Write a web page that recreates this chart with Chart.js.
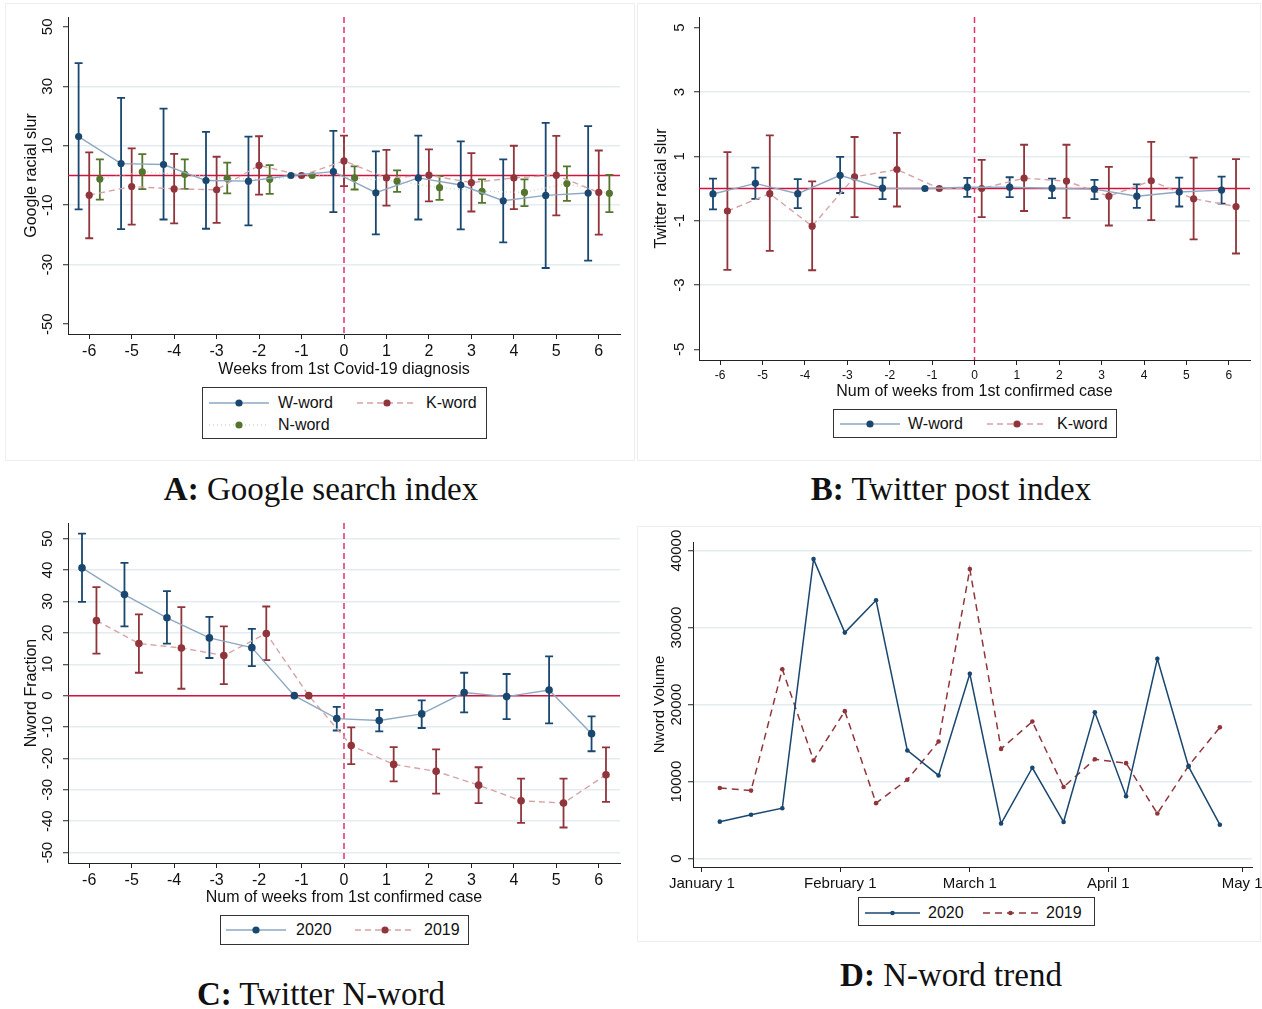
<!DOCTYPE html>
<html>
<head>
<meta charset="utf-8">
<script src="https://cdn.jsdelivr.net/npm/chart.js@4.4.1/dist/chart.umd.min.js"></script>
<style>
    body { margin: 0; background: #fff; width: 1262px; height: 1009px; position: relative; overflow: hidden;
           font-family: "Liberation Sans", Arial, sans-serif; color: #111; }
    .frame { position: absolute; border: 1px solid #eeeeee; }
    canvas { position: absolute; }
    .legend { position: absolute; border: 1px solid #333; background: #fff; font-size: 16px; box-sizing: border-box; }
    .legend span { position: absolute; white-space: nowrap; line-height: 20px; }
    .legend svg { position: absolute; }
    .cap { position: absolute; width: 632px; text-align: center; white-space: nowrap;
           font-family: "Liberation Serif", "DejaVu Serif", serif; font-size: 33px; color: #111; }
</style>
</head>
<body>
<div class="frame" style="left:5px;top:3px;width:628px;height:456px"></div>
<div class="frame" style="left:637px;top:3px;width:622px;height:456px"></div>
<div class="frame" style="left:637px;top:526px;width:622px;height:414px"></div>

<canvas id="googleChart" width="632" height="380" style="left:0;top:0"></canvas>
<canvas id="twitterChart" width="625" height="405" style="left:637px;top:0"></canvas>
<canvas id="nwordChart" width="632" height="400" style="left:0;top:510px"></canvas>
<canvas id="trendChart" width="625" height="375" style="left:637px;top:520px"></canvas>

<div class="cap" style="left:5px;top:471px"><b>A:</b> Google search index</div>
<div class="cap" style="left:635px;top:471px"><b>B:</b> Twitter post index</div>
<div class="cap" style="left:5px;top:976px"><b>C:</b> Twitter N-word</div>
<div class="cap" style="left:635px;top:957px"><b>D:</b> N-word trend</div>

<script>
const FONT = '"Liberation Sans", Arial, sans-serif';
const NAVY = '#1a476f';
const MAROON = '#90353b';
const GREEN = '#55752f';
const W_LINE = '#8ea8c2';
const K_LINE = '#d6a3a7';
const N_LINE = '#cfd5c8';
const GRID = '#e4ecef';

const weeks = [-6, -5, -4, -3, -2, -1, 0, 1, 2, 3, 4, 5, 6];

// A: Google search index
const googleW   = [13.1, 4.0, 3.7, -1.7, -1.9, 0, 1.3, -5.8, -0.8, -3.2, -8.5, -6.7, -5.9];
const googleWLo = [-11.4, -18.0, -14.8, -17.9, -16.8, null, -12.3, -19.8, -14.8, -18.1, -22.5, -31.1, -28.6];
const googleWHi = [37.8, 26.1, 22.5, 14.7, 13.1, null, 15.0, 8.1, 13.4, 11.5, 5.4, 17.7, 16.6];
const googleK   = [-6.6, -3.7, -4.5, -4.8, 3.4, 0, 4.9, -0.8, 0.1, -2.4, -0.8, 0.1, -5.7];
const googleKLo = [-21.1, -16.5, -16.1, -15.9, -6.4, null, -3.6, -10.1, -8.7, -12.1, -11.3, -13.4, -19.9];
const googleKHi = [7.8, 9.1, 7.3, 6.3, 13.2, null, 13.4, 8.6, 8.8, 7.5, 10.0, 13.3, 8.4];
const googleN   = [-1.2, 1.2, 0.4, -1.0, -1.3, 0, -0.8, -1.9, -4.1, -5.3, -5.7, -2.7, -6.0];
const googleNLo = [-8.1, -4.6, -4.5, -6.0, -6.2, null, -4.7, -5.5, -8.2, -9.2, -10.3, -8.5, -12.3];
const googleNHi = [5.4, 7.2, 5.4, 4.3, 3.5, null, 3.1, 1.7, -0.2, -1.3, -1.3, 3.1, 0.2];
const googleTicks = [-50, -30, -10, 10, 30, 50];

// B: Twitter post index
const twitterW   = [-0.17, 0.16, -0.16, 0.41, 0.01, 0, 0.04, 0.04, 0.01, -0.02, -0.24, -0.11, -0.05];
const twitterWLo = [-0.65, -0.32, -0.61, -0.14, -0.33, null, -0.26, -0.27, -0.30, -0.33, -0.60, -0.56, -0.47];
const twitterWHi = [0.31, 0.65, 0.29, 0.98, 0.34, null, 0.33, 0.35, 0.31, 0.27, 0.13, 0.34, 0.37];
const twitterK   = [-0.70, -0.16, -1.17, 0.36, 0.59, 0, 0, 0.32, 0.23, -0.24, 0.24, -0.32, -0.56];
const twitterKLo = [-2.53, -1.94, -2.54, -0.89, -0.56, null, -0.89, -0.70, -0.91, -1.15, -0.98, -1.58, -2.02];
const twitterKHi = [1.13, 1.65, 0.22, 1.60, 1.73, null, 0.89, 1.36, 1.36, 0.67, 1.45, 0.96, 0.91];
const twitterTicks = [-5, -3, -1, 1, 3, 5];

// C: Twitter N-word
const nword2020   = [40.7, 32.2, 24.8, 18.4, 15.3, 0, -7.3, -7.9, -5.8, 1.0, -0.3, 1.8, -12.1];
const nword2020Lo = [29.9, 22.1, 16.6, 12.0, 9.4, null, -11.1, -11.4, -10.3, -5.3, -7.5, -8.8, -17.7];
const nword2020Hi = [51.6, 42.3, 33.3, 25.1, 21.3, null, -3.6, -4.5, -1.5, 7.3, 6.9, 12.5, -6.6];
const nword2019   = [23.9, 16.6, 15.2, 12.8, 19.8, 0, -15.9, -21.9, -24.1, -28.5, -33.5, -34.2, -25.2];
const nword2019Lo = [13.4, 7.3, 2.2, 3.7, 11.3, null, -21.8, -27.3, -31.2, -34.2, -40.5, -42.0, -33.8];
const nword2019Hi = [34.6, 25.9, 28.2, 22.1, 28.4, null, -10.1, -16.4, -17.1, -22.8, -26.4, -26.4, -16.5];
const nwordTicks = [-50, -40, -30, -20, -10, 0, 10, 20, 30, 40, 50];

// D: N-word trend (days counted from January 1)
const trendDays  = [4, 11, 18, 25, 32, 39, 46, 53, 60, 67, 74, 81, 88, 95, 102, 109, 116];
const volume2020 = [4800, 5700, 6550, 38900, 29350, 33550, 14050, 10800, 24000, 4550, 11800, 4750, 19000, 8100, 25950, 11950, 4400];
const volume2019 = [9180, 8830, 24600, 12750, 19150, 7200, 10250, 15200, 37600, 14250, 17800, 9300, 12900, 12400, 5850, 12050, 17050];
const monthDays   = [0, 31, 60, 91, 121];
const monthLabels = ['January 1', 'February 1', 'March 1', 'April 1', 'May 1'];
const volumeTicks = [0, 10000, 20000, 30000, 40000];

// Zero lines, error bars and rotated y labels
const extras = {
    id: 'extras',
    beforeDatasetsDraw(chart, args, opts) {
        const { ctx, chartArea: a, scales: { x, y } } = chart;
        ctx.save();
        if (opts.zeroLine) {
            const py = y.getPixelForValue(0);
            ctx.strokeStyle = '#d3123f';
            ctx.lineWidth = 1.5;
            ctx.beginPath(); ctx.moveTo(a.left, py); ctx.lineTo(a.right, py); ctx.stroke();
        }
        if (opts.eventLine) {
            const px = x.getPixelForValue(0);
            ctx.strokeStyle = '#e0336b';
            ctx.lineWidth = 1.5;
            ctx.setLineDash([6, 4]);
            ctx.beginPath(); ctx.moveTo(px, a.top); ctx.lineTo(px, a.bottom); ctx.stroke();
            ctx.setLineDash([]);
        }
        chart.data.datasets.forEach(ds => {
            if (!ds.errLo) return;
            ctx.strokeStyle = ds.errColor;
            ctx.lineWidth = 1.8;
            ds.data.forEach((p, i) => {
                if (ds.errLo[i] == null) return;
                const px = x.getPixelForValue(p.x);
                const y1 = y.getPixelForValue(ds.errLo[i]);
                const y2 = y.getPixelForValue(ds.errHi[i]);
                ctx.beginPath();
                ctx.moveTo(px, y1); ctx.lineTo(px, y2);
                ctx.moveTo(px - 4, y1); ctx.lineTo(px + 4, y1);
                ctx.moveTo(px - 4, y2); ctx.lineTo(px + 4, y2);
                ctx.stroke();
            });
        });
        ctx.restore();
    },
    afterDraw(chart, args, opts) {
        const { ctx, scales: { y } } = chart;
        ctx.save();
        ctx.font = opts.yFont;
        ctx.fillStyle = '#111';
        ctx.textAlign = 'center';
        ctx.textBaseline = 'middle';
        y.ticks.forEach(t => {
            ctx.save();
            ctx.translate(opts.yLabelX, y.getPixelForValue(t.value));
            ctx.rotate(-Math.PI / 2);
            ctx.fillText(String(t.value), 0, 0);
            ctx.restore();
        });
        ctx.restore();
    }
};

function points(xs, ys, shift) {
    return xs.map((v, i) => ({ x: v + shift, y: ys[i] }));
}

function series(xs, ys, shift, line, dot, dash, lo, hi, radius) {
    return {
        data: points(xs, ys, shift),
        showLine: true,
        borderColor: line,
        borderWidth: 1.4,
        borderDash: dash,
        pointRadius: radius,
        pointBackgroundColor: dot,
        pointBorderColor: dot,
        pointBorderWidth: 0,
        errLo: lo,
        errHi: hi,
        errColor: dot
    };
}

function options(o) {
    return {
        responsive: false,
        animation: false,
        layout: { padding: { top: o.top, right: o.right, left: 0, bottom: 0 } },
        plugins: {
            legend: { display: false },
            tooltip: { enabled: false },
            extras: { zeroLine: o.zeroLine, eventLine: o.eventLine, yFont: o.yFont, yLabelX: o.yLabelX }
        },
        scales: {
            x: {
                type: 'linear',
                min: o.xMin, max: o.xMax,
                afterBuildTicks: s => { s.ticks = o.xTicks.map(v => ({ value: v })); },
                afterFit: s => { s.height = o.xHeight; s.paddingLeft = 0; s.paddingRight = 0; },
                grid: { drawOnChartArea: false, drawTicks: true, tickLength: 5, tickColor: '#222' },
                border: { color: '#222', width: 1 },
                ticks: { autoSkip: false, maxRotation: 0, padding: 3, color: '#111',
                         font: { family: FONT, size: o.xTickSize }, callback: o.xLabel },
                title: { display: !!o.xTitle, text: o.xTitle, color: '#111', font: { family: FONT, size: 16 },
                         padding: { top: 0, bottom: o.xTitlePad } }
            },
            y: {
                min: o.yMin, max: o.yMax,
                afterBuildTicks: s => { s.ticks = o.yTicks.map(v => ({ value: v })); },
                afterFit: s => { s.width = o.yWidth; s.paddingTop = 0; s.paddingBottom = 0; },
                grid: {
                    color: ctx => (o.skipEdgeGrid && ctx.tick && Math.abs(ctx.tick.value) === o.yMax0) ? 'rgba(0,0,0,0)' : GRID,
                    lineWidth: 1.5, tickLength: 5, tickColor: '#222', tickWidth: 1
                },
                border: { color: '#222', width: 1 },
                ticks: { display: false },
                title: { display: true, text: o.yTitle, color: '#111', font: { family: FONT, size: o.yTitleSize || 16 },
                         padding: { top: o.yTitlePad, bottom: 0 } }
            }
        }
    };
}

// A
new Chart(document.getElementById('googleChart'), {
    type: 'scatter',
    data: { datasets: [
        series(weeks, googleW, -0.25, W_LINE, NAVY, [], googleWLo, googleWHi, 3.6),
        series(weeks, googleK, 0, K_LINE, MAROON, [6, 4], googleKLo, googleKHi, 3.6),
        series(weeks, googleN, 0.25, N_LINE, GREEN, [1, 3], googleNLo, googleNHi, 3.6)
    ] },
    options: options({
        top: 17, right: 12, xHeight: 46, yWidth: 68,
        xMin: -6.5, xMax: 6.5, xTicks: weeks, xTickSize: 16,
        xTitle: 'Weeks from 1st Covid-19 diagnosis', xTitlePad: 1,
        yMin: -53.3, yMax: 53.3, yTicks: googleTicks, yMax0: 50, skipEdgeGrid: true,
        yTitle: 'Google racial slur', yTitlePad: 22, yFont: '15px ' + FONT, yLabelX: 48,
        zeroLine: true, eventLine: true
    }),
    plugins: [extras]
});

// B
new Chart(document.getElementById('twitterChart'), {
    type: 'scatter',
    data: { datasets: [
        series(weeks, twitterW, -0.17, W_LINE, NAVY, [], twitterWLo, twitterWHi, 3.6),
        series(weeks, twitterK, 0.17, K_LINE, MAROON, [6, 4], twitterKLo, twitterKHi, 3.6)
    ] },
    options: options({
        top: 17, right: 12, xHeight: 45, yWidth: 62,
        xMin: -6.5, xMax: 6.5, xTicks: weeks, xTickSize: 12,
        xTitle: 'Num of weeks from 1st confirmed case', xTitlePad: 4,
        yMin: -5.33, yMax: 5.33, yTicks: twitterTicks, yMax0: 5, skipEdgeGrid: true,
        yTitle: 'Twitter racial slur', yTitlePad: 15, yFont: '15px ' + FONT, yLabelX: 43,
        zeroLine: true, eventLine: true
    }),
    plugins: [extras]
});

// C
new Chart(document.getElementById('nwordChart'), {
    type: 'scatter',
    data: { datasets: [
        series(weeks, nword2020, -0.17, W_LINE, NAVY, [], nword2020Lo, nword2020Hi, 3.8),
        series(weeks, nword2019, 0.17, K_LINE, MAROON, [6, 4], nword2019Lo, nword2019Hi, 3.8)
    ] },
    options: options({
        top: 13, right: 12, xHeight: 47, yWidth: 68,
        xMin: -6.5, xMax: 6.5, xTicks: weeks, xTickSize: 16,
        xTitle: 'Num of weeks from 1st confirmed case', xTitlePad: 3,
        yMin: -53.3, yMax: 55, yTicks: nwordTicks, skipEdgeGrid: false,
        yTitle: 'Nword Fraction', yTitlePad: 22, yFont: '15px ' + FONT, yLabelX: 48,
        zeroLine: true, eventLine: true
    }),
    plugins: [extras]
});

// D
new Chart(document.getElementById('trendChart'), {
    type: 'scatter',
    data: { datasets: [
        { data: points(trendDays, volume2020, 0), showLine: true, borderColor: NAVY, borderWidth: 1.5,
          pointRadius: 2.3, pointBackgroundColor: NAVY, pointBorderWidth: 0 },
        { data: points(trendDays, volume2019, 0), showLine: true, borderColor: MAROON, borderWidth: 1.5,
          borderDash: [7, 5], pointRadius: 2.3, pointBackgroundColor: MAROON, pointBorderWidth: 0 }
    ] },
    options: options({
        top: 22, right: 10, xHeight: 28, yWidth: 56,
        xMin: -2, xMax: 123.2, xTicks: monthDays, xTickSize: 15,
        xLabel: v => monthLabels[monthDays.indexOf(v)],
        xTitle: '', xTitlePad: 0,
        yMin: -1090, yMax: 41120, yTicks: volumeTicks, skipEdgeGrid: false,
        yTitle: 'Nword Volume', yTitleSize: 15, yTitlePad: 14, yFont: '15px ' + FONT, yLabelX: 40,
        zeroLine: false, eventLine: false
    }),
    plugins: [extras]
});

// Legends
function addLegend(box, items) {
    const el = document.createElement('div');
    el.className = 'legend';
    Object.assign(el.style, { left: box.x + 'px', top: box.y + 'px', width: box.w + 'px', height: box.h + 'px' });
    items.forEach(it => {
        const dash = it.dash ? ` stroke-dasharray="${it.dash}"` : '';
        el.insertAdjacentHTML('beforeend',
            `<svg width="${it.len}" height="12" style="left:${it.sx}px;top:${it.cy - 6}px">` +
            `<line x1="0" y1="6" x2="${it.len}" y2="6" stroke="${it.line}" stroke-width="1.4"${dash}/>` +
            `<circle cx="${it.len / 2}" cy="6" r="${it.r}" fill="${it.dot}"/></svg>` +
            `<span style="left:${it.tx}px;top:${it.cy - 10}px">${it.label}</span>`);
    });
    document.body.appendChild(el);
}

addLegend({ x: 202, y: 387, w: 285, h: 52 }, [
    { sx: 6, cy: 15, len: 60, line: W_LINE, dot: NAVY, r: 3.6, tx: 75, label: 'W-word' },
    { sx: 154, cy: 15, len: 60, line: K_LINE, dot: MAROON, r: 3.6, dash: '6 4', tx: 223, label: 'K-word' },
    { sx: 6, cy: 37, len: 60, line: N_LINE, dot: GREEN, r: 3.6, dash: '1 3', tx: 75, label: 'N-word' }
]);
addLegend({ x: 833, y: 409, w: 284, h: 29 }, [
    { sx: 6, cy: 14, len: 60, line: W_LINE, dot: NAVY, r: 3.6, tx: 74, label: 'W-word' },
    { sx: 153, cy: 14, len: 60, line: K_LINE, dot: MAROON, r: 3.6, dash: '6 4', tx: 223, label: 'K-word' }
]);
addLegend({ x: 220, y: 915, w: 249, h: 30 }, [
    { sx: 5, cy: 14, len: 60, line: W_LINE, dot: NAVY, r: 3.6, tx: 75, label: '2020' },
    { sx: 134, cy: 14, len: 60, line: K_LINE, dot: MAROON, r: 3.6, dash: '6 4', tx: 203, label: '2019' }
]);
addLegend({ x: 858, y: 897, w: 237, h: 29 }, [
    { sx: 6, cy: 15, len: 55, line: NAVY, dot: NAVY, r: 2.3, tx: 69, label: '2020' },
    { sx: 124, cy: 15, len: 55, line: MAROON, dot: MAROON, r: 2.3, dash: '7 5', tx: 187, label: '2019' }
]);
</script>
</body>
</html>
